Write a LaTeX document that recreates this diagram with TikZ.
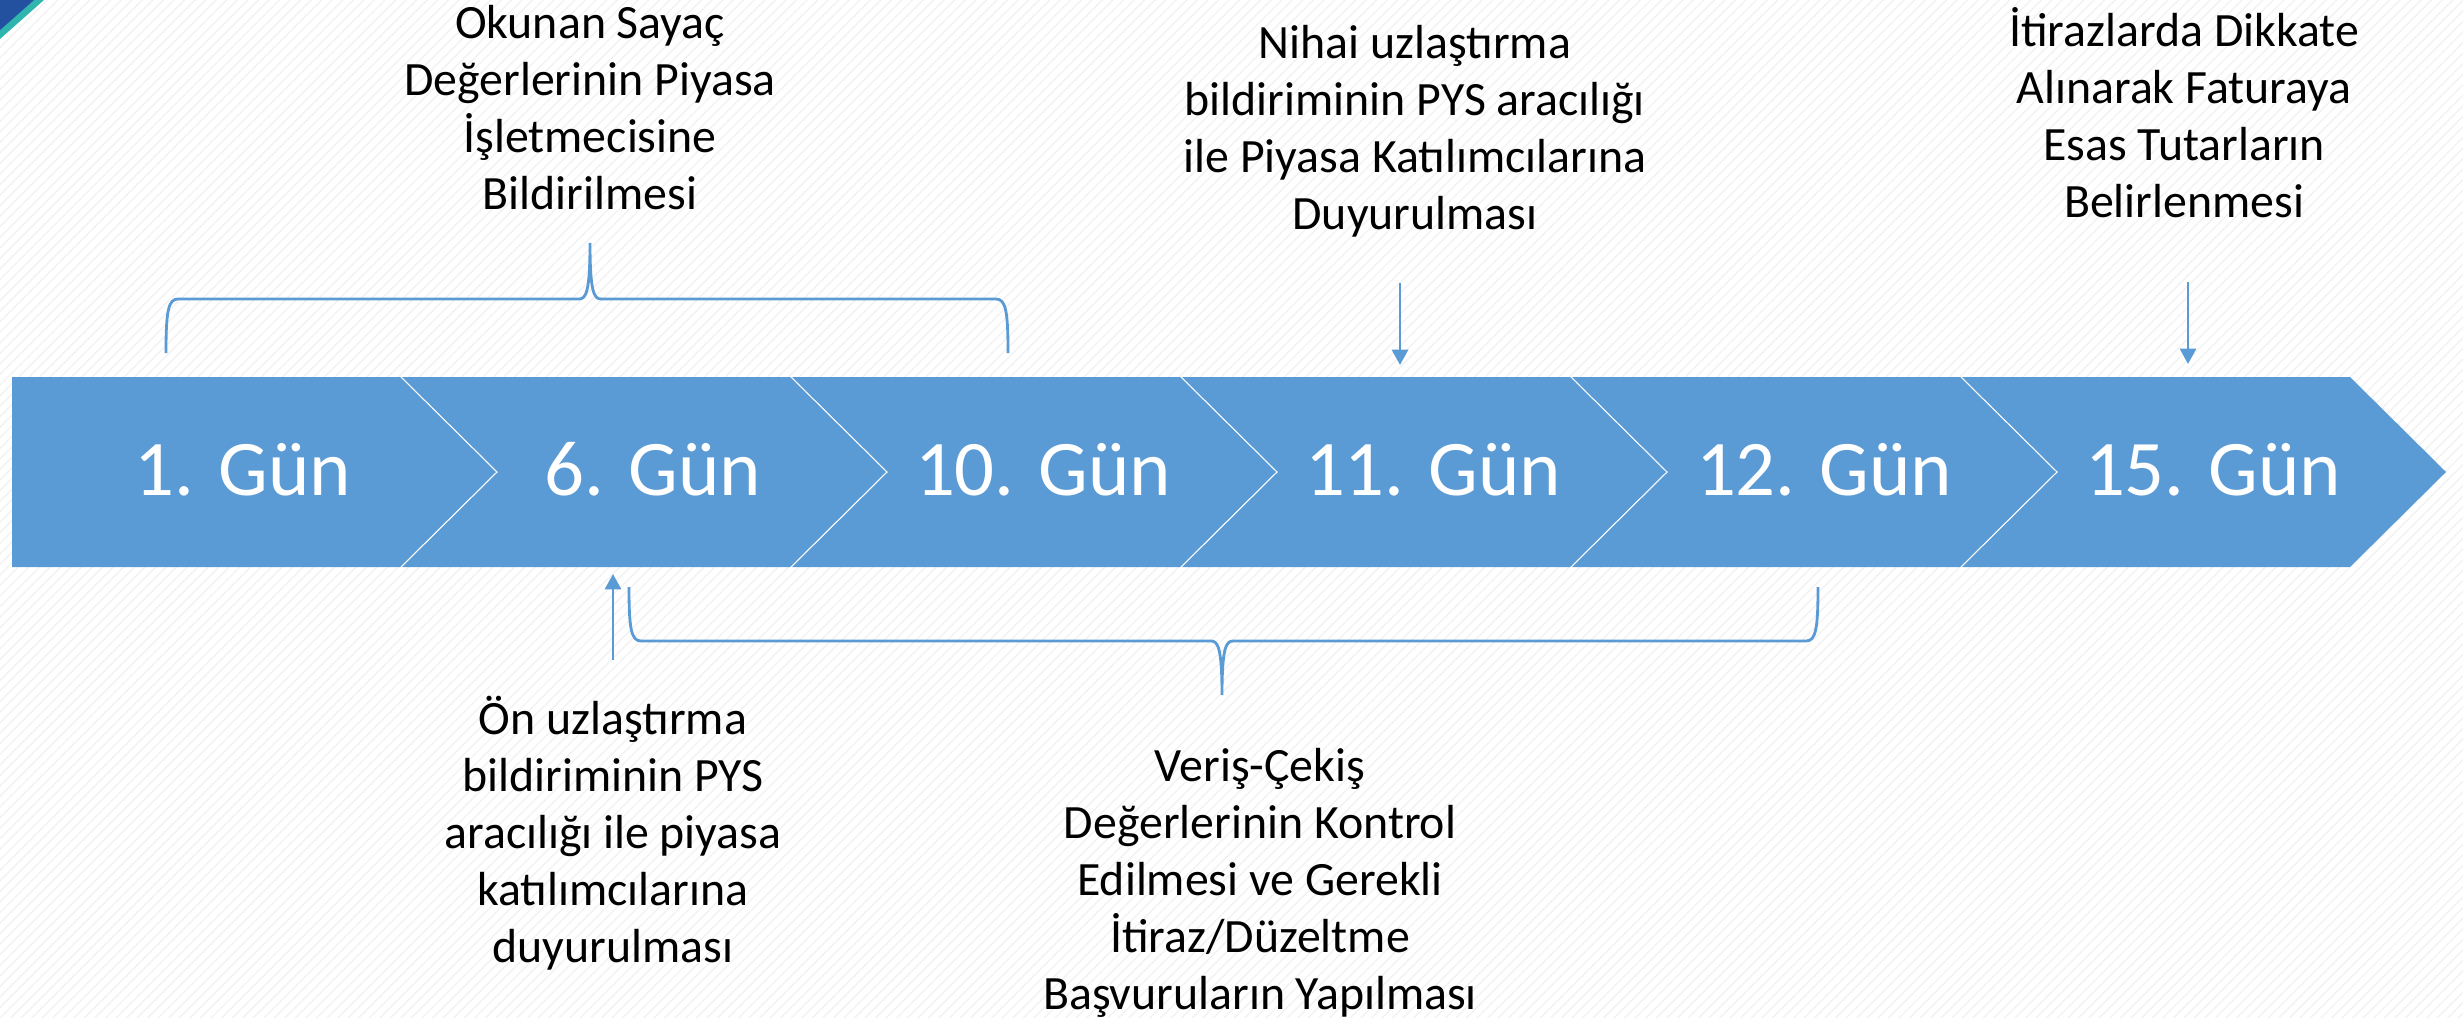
\documentclass[tikz,border=0pt]{standalone}
\usepackage{fontspec}
\setmainfont{Carlito}
\usetikzlibrary{arrows.meta,patterns}
\definecolor{band}{HTML}{5B9BD5}
\definecolor{cornerblue}{HTML}{23509F}
\definecolor{cornerteal}{HTML}{2FB4AE}
\begin{document}
\begin{tikzpicture}[x=0.01cm,y=-0.01cm,
  daylabel/.style={text=white,font=\fontsize{22.4}{27}\selectfont,anchor=base,inner sep=0pt},
  note/.style={align=center,font=\fontsize{13.6}{16.2}\selectfont,inner sep=0pt,anchor=north},
  link/.style={draw=band,line width=0.8pt},
  pointer/.style={link,-{Triangle[width=4.6pt,length=4.4pt]}}]

\useasboundingbox (0,0) rectangle (2463,1018);
% faint striped backdrop
\fill[pattern=north east lines,pattern color=black!5] (0,0) rectangle (2463,1018);
% corner accent
\fill[cornerteal] (0,0) -- (44,0) -- (0,39) -- cycle;
\fill[cornerblue] (0,0) -- (34,0) -- (0,30) -- cycle;

% chevron band
\fill[band] (12,377) -- (400,377) -- (496,472) -- (400,567) -- (12,567) -- cycle;
\foreach \i in {1,...,5}{
  \pgfmathsetmacro\R{400+390*\i}
  \pgfmathsetmacro\L{\R-388}
  \fill[band] (\L,377) -- (\R,377) -- ({\R+96},472) -- (\R,567) -- (\L,567) -- ({\L+96},472) -- cycle;
}

% day labels
\node[daylabel] (d1)  at (243,495)  {1. Gün};
\node[daylabel] (d6)  at (653,495)  {6. Gün};
\node[daylabel] (d10) at (1043,495) {10. Gün};
\node[daylabel] (d11) at (1433,495) {11. Gün};
\node[daylabel] (d12) at (1824,495) {12. Gün};
\node[daylabel] (d15) at (2213,495) {15. Gün};

% notes above the band
\node[note] (t1) at (590,-2) {\strut Okunan Sayaç\\Değerlerinin Piyasa\\İşletmecisine\\Bildirilmesi};
\node[note] (t2) at (1415,18) {\strut Nihai uzlaştırma\\bildiriminin PYS aracılığı\\ile Piyasa Katılımcılarına\\Duyurulması};
\node[note] (t3) at (2184,6) {\strut İtirazlarda Dikkate\\Alınarak Faturaya\\Esas Tutarların\\Belirlenmesi};

% notes below the band
\node[note] (b1) at (613,694) {\strut Ön uzlaştırma\\bildiriminin PYS\\aracılığı ile piyasa\\katılımcılarına\\duyurulması};
\node[note] (b2) at (1260,741) {\strut Veriş-Çekiş\\Değerlerinin Kontrol\\Edilmesi ve Gerekli\\İtiraz/Düzeltme\\Başvuruların Yapılması};

% brace over days 1-10
\coordinate (ubl) at (166,353);
\coordinate (ubt) at (590,243);
\coordinate (ubr) at (1008,353);
\draw[link] (ubl) .. controls (166,312) and (168,299) .. (178,299) -- (579,299)
  .. controls (586,299) and (590,292) .. (ubt)
  .. controls (590,292) and (594,299) .. (601,299) -- (996,299)
  .. controls (1006,299) and (1008,312) .. (ubr);

% brace under days 6-12
\coordinate (lbl) at (629,587);
\coordinate (lbt) at (1222,695);
\coordinate (lbr) at (1818,587);
\draw[link] (lbl) .. controls (629,628) and (631,641) .. (641,641) -- (1211,641)
  .. controls (1218,641) and (1222,648) .. (lbt)
  .. controls (1222,648) and (1226,641) .. (1233,641) -- (1806,641)
  .. controls (1816,641) and (1818,628) .. (lbr);

% single-day pointers
\coordinate (p6s)  at (613,660);  \coordinate (p6e)  at (613,574);
\coordinate (p11s) at (1400,283); \coordinate (p11e) at (1400,365);
\coordinate (p15s) at (2188,282); \coordinate (p15e) at (2188,364);
\draw[pointer] (p6s) -- (p6e);
\draw[pointer] (p11s) -- (p11e);
\draw[pointer] (p15s) -- (p15e);
\end{tikzpicture}
\end{document}
